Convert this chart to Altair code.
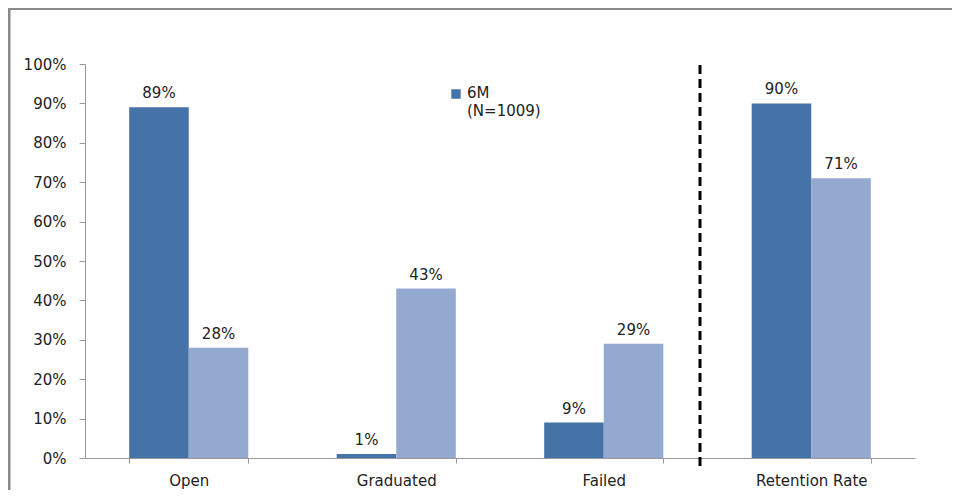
import altair as alt
import pandas as pd

categories = ["Open", "Graduated", "Failed", "Retention Rate"]
series_names = ["6M (N=1009)", "12M"]
values_6m = [0.89, 0.01, 0.09, 0.90]
values_12m = [0.28, 0.43, 0.29, 0.71]
colors = ["#4572A7", "#94A9CF"]
y_ticks = [0, 0.1, 0.2, 0.3, 0.4, 0.5, 0.6, 0.7, 0.8, 0.9, 1.0]
legend_lines = ["6M", "(N=1009)"]

rows = []
for c, a, b in zip(categories, values_6m, values_12m):
    rows.append({"cat": c, "series": series_names[0], "val": a, "label": f"{round(a*100)}%"})
    rows.append({"cat": c, "series": series_names[1], "val": b, "label": f"{round(b*100)}%"})
df = pd.DataFrame(rows)

W, H = 830, 394
FONT = "DejaVu Sans"
FS = 15

xscale = alt.Scale(domain=categories, paddingInner=0.426, paddingOuter=0.213)
yscale = alt.Scale(domain=[0, 1])
cscale = alt.Scale(domain=series_names, range=colors)

base = alt.Chart(df).encode(
    x=alt.X("cat:N", scale=xscale, sort=categories,
            axis=alt.Axis(title=None, labelAngle=0, tickBand="extent", tickSize=5,
                          labelPadding=10, labelFontSize=FS, labelFont=FONT,
                          labelColor="#222", domainColor="#999", tickColor="#999",
                          grid=False)),
    xOffset=alt.XOffset("series:N", sort=series_names),
    y=alt.Y("val:Q", scale=yscale,
            axis=alt.Axis(title=None, format=".0%", values=y_ticks, tickSize=6,
                          labelPadding=13, labelFontSize=FS, labelFont=FONT,
                          labelColor="#222", domainColor="#999", tickColor="#999",
                          grid=False)),
)

bars = base.mark_bar().encode(
    color=alt.Color("series:N", scale=cscale, legend=None)
)
labels = base.mark_text(baseline="bottom", dy=-6, fontSize=FS, font=FONT, color="#222").encode(
    text="label:N"
)

divider = alt.Chart(pd.DataFrame({"d": [0]})).mark_rule(
    color="black", strokeWidth=3, strokeDash=[9, 5]
).encode(x=alt.value(615), y=alt.value(1), y2=alt.value(407))

leg_sq = alt.Chart(pd.DataFrame({"s": [series_names[0]]})).mark_square(
    size=90, opacity=1, color=colors[0]
).encode(x=alt.value(371), y=alt.value(30))
leg_txt = alt.Chart(pd.DataFrame({"t": ["\n".join(legend_lines)]})).mark_text(
    align="left", baseline="top", fontSize=FS, font=FONT, color="#222",
    lineBreak="\n", lineHeight=18
).encode(x=alt.value(382), y=alt.value(22), text="t:N")

border_left = alt.Chart(pd.DataFrame({"b": [0]})).mark_rule(
    color="#8a8a8a", strokeWidth=3
).encode(x=alt.value(-76), y=alt.value(-60), y2=alt.value(460))
border_top = alt.Chart(pd.DataFrame({"b": [0]})).mark_rule(
    color="#8a8a8a", strokeWidth=2
).encode(x=alt.value(-80), x2=alt.value(900), y=alt.value(-55))

chart = alt.layer(bars, labels, divider, leg_sq, leg_txt, border_left, border_top).properties(
    width=W, height=H,
    background="white",
    autosize=alt.AutoSizeParams(type="none"),
    padding={"left": 77, "top": 56, "right": 37, "bottom": 32},
).configure_view(strokeWidth=0, stroke="transparent")

chart.save("out.html", embed_options={"renderer": "svg", "actions": False})
